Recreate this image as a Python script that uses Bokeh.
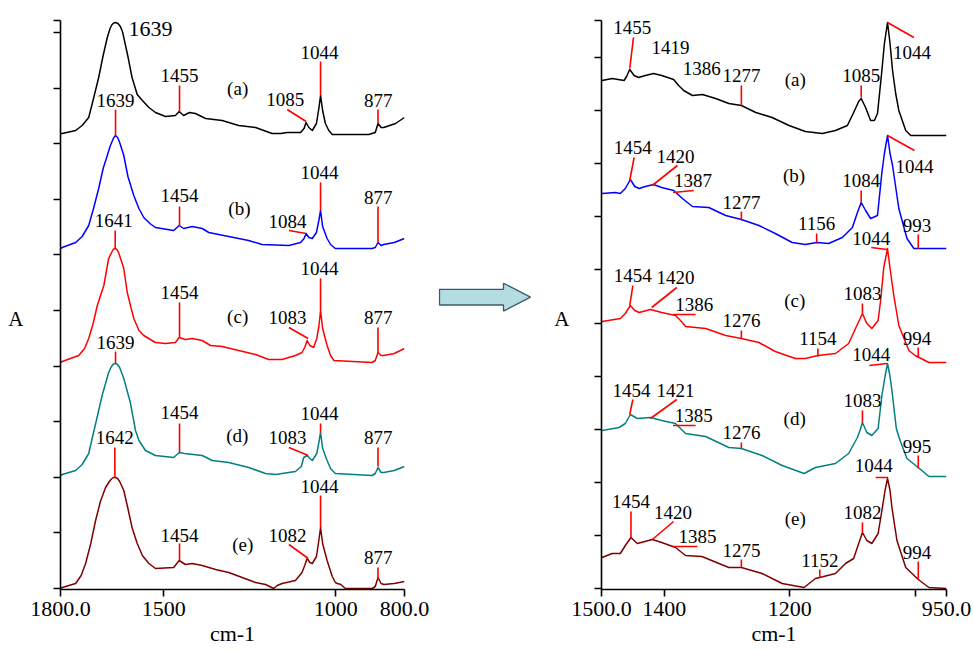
from bokeh.plotting import figure
from bokeh.layouts import row
from bokeh.models import Range1d, FixedTicker
from bokeh.core.properties import value
from bokeh.embed import file_html
from bokeh.resources import INLINE

FONT = "Liberation Serif"

# ---------------- Left panel spectra (wavenumber, stacked absorbance) ----------------
la_wn = [1800, 1795, 1756, 1737, 1718, 1704, 1689, 1676, 1664, 1656, 1650, 1645, 1640, 1633, 1626, 1620, 1616, 1604, 1592, 1577, 1562, 1543, 1524, 1495, 1466, 1455, 1442, 1425, 1408, 1378, 1330, 1282, 1233, 1185, 1160, 1141, 1102, 1092, 1086, 1078, 1068, 1056, 1049, 1044, 1038, 1030, 1020, 1010, 904, 885, 877, 868, 860, 826, 800]
la_h = [455, 455, 458, 463, 471, 490, 511, 533, 551, 560, 564, 565.5, 566, 565, 562, 557, 551, 532, 511, 494, 488, 481, 476, 472, 473, 477, 473, 476, 475, 470, 468, 463, 461, 455, 455, 456, 456, 460, 466, 461, 458, 465, 480, 493, 478, 465, 458, 454, 454, 456, 465, 461, 461, 465, 471]

lb_wn = [1800, 1795, 1756, 1737, 1718, 1704, 1689, 1676, 1664, 1656, 1650, 1645, 1640, 1634, 1628, 1616, 1604, 1587, 1572, 1558, 1540, 1524, 1471, 1455, 1442, 1417, 1388, 1369, 1311, 1253, 1214, 1136, 1102, 1092, 1086, 1078, 1068, 1056, 1049, 1044, 1038, 1025, 1015, 1001, 894, 885, 877, 868, 860, 830, 800]
lb_h = [340, 341, 346, 352, 363, 380, 400, 420, 433, 442, 447, 451, 453, 451, 446, 433, 412, 393, 380, 371, 365, 361, 358, 363, 360, 362, 360, 356, 352, 348, 344, 343, 346, 350, 355, 351, 350, 356, 368, 378, 362, 350, 344, 340, 340, 341, 346, 343, 344, 346, 350]

lc_wn = [1800, 1795, 1747, 1730, 1718, 1705, 1693, 1674, 1660, 1650, 1646, 1641, 1636, 1630, 1616, 1606, 1587, 1572, 1558, 1524, 1495, 1466, 1455, 1437, 1417, 1388, 1364, 1330, 1282, 1233, 1195, 1156, 1117, 1098, 1090, 1083, 1075, 1064, 1055, 1049, 1044, 1038, 1025, 1015, 1005, 894, 885, 877, 868, 860, 830, 800]
lc_h = [226, 227, 233, 240, 250, 265, 283, 303, 330, 337, 339.5, 340, 339, 335, 320, 296, 270, 258, 253, 246, 245, 246, 251, 249, 250, 248, 243, 242, 238, 234, 229, 229, 233, 236, 241, 248, 243, 241, 250, 262, 278, 260, 243, 233, 228, 226, 228, 236, 233, 233, 235, 240]

ld_wn = [1800, 1795, 1756, 1737, 1718, 1708, 1693, 1679, 1660, 1652, 1646, 1640, 1634, 1628, 1616, 1597, 1582, 1572, 1553, 1524, 1471, 1455, 1440, 1388, 1359, 1311, 1253, 1204, 1175, 1117, 1100, 1093, 1083, 1075, 1068, 1055, 1049, 1044, 1038, 1025, 1015, 1001, 894, 885, 877, 868, 860, 830, 800]
ld_h = [113, 114, 118, 124, 135, 150, 172, 193, 216, 222, 224.5, 225, 224, 221, 210, 186, 158, 148, 138, 133, 131, 136, 135, 133, 128, 126, 121, 115, 114, 117, 122, 131, 133, 130, 128, 135, 146, 156, 140, 128, 120, 115, 113, 115, 121, 116, 116, 118, 122]

le_wn = [1800, 1795, 1756, 1740, 1727, 1712, 1698, 1684, 1669, 1658, 1652, 1646, 1640, 1634, 1628, 1616, 1604, 1592, 1577, 1562, 1543, 1524, 1471, 1455, 1437, 1417, 1388, 1349, 1311, 1272, 1233, 1204, 1180, 1170, 1156, 1117, 1098, 1090, 1083, 1075, 1068, 1056, 1049, 1044, 1038, 1025, 1010, 1001, 995, 985, 972, 894, 885, 877, 868, 860, 830, 800]
le_h = [0, 1, 5, 13, 25, 45, 68, 87, 101, 107, 109.5, 111, 111, 110, 107, 98, 80, 61, 45, 33, 25, 20, 21, 28, 24, 25, 23, 19, 16, 11, 6, 4, 0, 3, 5, 8, 16, 23, 30, 26, 25, 32, 48, 61, 45, 28, 12, 6, 5, 4, 0, 0, 2, 11, 5, 4, 5, 7]

# ---------------- Right panel spectra ----------------
ra_wn = [1500, 1499, 1483, 1464, 1460, 1455, 1448, 1441, 1430, 1417, 1404, 1385, 1377, 1369, 1355, 1339, 1318, 1297, 1277, 1254, 1228, 1201, 1175, 1148, 1127, 1108, 1098, 1090, 1086, 1079, 1071, 1065, 1060, 1053, 1049, 1044, 1040, 1036, 1031, 1026, 1015, 1007, 950]
ra_h = [508, 508, 510, 508, 512, 519, 513, 511, 513, 515, 513, 509, 503, 498, 493, 494, 490, 485, 483, 476, 471, 463, 457, 455, 458, 463, 476, 487, 490, 481, 468, 468, 475, 518, 545, 566, 545, 518, 495, 478, 458, 453, 453]

rb_wn = [1500, 1499, 1478, 1470, 1462, 1454, 1447, 1440, 1430, 1417, 1404, 1385, 1378, 1371, 1355, 1329, 1302, 1277, 1249, 1223, 1196, 1175, 1157, 1138, 1116, 1100, 1092, 1086, 1079, 1071, 1060, 1053, 1049, 1044, 1040, 1036, 1026, 1013, 1002, 993, 950]
rb_h = [395, 395, 396, 395, 400, 409, 402, 400, 402, 404, 401, 398, 394, 390, 382, 381, 373, 369, 363, 355, 346, 344, 346, 345, 351, 361, 376, 386, 378, 370, 373, 416, 435, 453, 435, 423, 380, 350, 340, 340, 340]

rc_wn = [1500, 1499, 1470, 1462, 1454, 1447, 1440, 1422, 1404, 1382, 1374, 1366, 1334, 1302, 1277, 1249, 1223, 1191, 1175, 1155, 1127, 1106, 1095, 1084, 1077, 1069, 1059, 1055, 1050, 1044, 1040, 1034, 1026, 1010, 1000, 978, 950]
rc_h = [266, 267, 270, 275, 283, 278, 276, 279, 276, 273, 268, 262, 260, 253, 250, 246, 237, 230, 230, 233, 235, 245, 260, 275, 265, 260, 268, 288, 321, 340, 320, 293, 263, 238, 233, 226, 226]

rd_wn = [1500, 1499, 1472, 1462, 1454, 1443, 1422, 1404, 1382, 1366, 1334, 1297, 1277, 1244, 1212, 1177, 1159, 1127, 1106, 1092, 1088, 1084, 1077, 1069, 1059, 1053, 1048, 1044, 1040, 1037, 1030, 1024, 1013, 995, 978, 950]
rd_h = [158, 158, 161, 165, 174, 170, 171, 168, 165, 155, 152, 141, 140, 133, 123, 115, 121, 125, 135, 151, 158, 166, 156, 153, 160, 193, 212, 225, 212, 198, 160, 148, 130, 121, 112, 112]

re_wn = [1500, 1499, 1483, 1470, 1462, 1453, 1443, 1419, 1404, 1382, 1366, 1340, 1297, 1277, 1244, 1212, 1177, 1159, 1152, 1127, 1111, 1098, 1090, 1084, 1077, 1069, 1059, 1053, 1048, 1044, 1040, 1037, 1029, 1015, 995, 978, 950]
re_h = [31, 31, 35, 35, 43, 51, 45, 49, 46, 41, 33, 32, 21, 21, 15, 5, 1, 10, 11, 15, 25, 30, 45, 56, 48, 45, 55, 78, 98, 110, 98, 81, 48, 21, 9, 1, 0]

colors = ["#000000", "#0000ff", "#ff0000", "#008080", "#800000"]

# ---------------- Left panel peak labels ----------------
l_txt = ["1455", "(a)", "1085", "1044", "877", "1639",
         "1454", "(b)", "1084", "1044", "877", "1641",
         "1454", "(c)", "1083", "1044", "877", "1639",
         "1454", "(d)", "1083", "1044", "877", "1642",
         "1454", "(e)", "1082", "1044", "877"]
l_tx = [1454, 1285, 1147, 1047, 876, 1640,
        1454, 1280, 1140, 1047, 876, 1645,
        1454, 1285, 1140, 1047, 876, 1640,
        1454, 1286, 1140, 1047, 876, 1642,
        1454, 1270, 1140, 1047, 876]
l_ty = [513, 500, 489, 536, 488, 488,
        393, 380, 367, 416, 391, 368,
        296, 272, 271, 320, 271, 246,
        176, 153, 151, 175, 151, 151,
        53, 44, 53, 102, 31]
l_big_txt = ["1639"]
l_big_x = [1602]
l_big_y = [560]

l_x0 = [1454, 1141, 1044, 877, 1640, 1454, 1136, 1044, 877, 1641, 1454, 1136, 1044, 877, 1640, 1454, 1136, 1044, 877, 1642, 1454, 1136, 1044, 877]
l_y0 = [503, 479, 527, 479, 479, 382, 358, 406, 382, 358, 286, 261, 310, 261, 237, 165, 141, 165, 141, 141, 45, 44, 93, 21]
l_x1 = [1454, 1086, 1044, 877, 1640, 1454, 1086, 1044, 877, 1641, 1454, 1080, 1044, 877, 1640, 1454, 1080, 1044, 877, 1642, 1454, 1080, 1044, 877]
l_y1 = [477, 467, 493, 465, 453, 363, 355, 378, 346, 340, 251, 250, 278, 236, 225, 136, 133, 156, 122, 111, 28, 30, 61, 9]

# ---------------- Right panel peak labels ----------------
r_txt = ["1455", "1419", "1386", "1277", "(a)", "1085", "1044",
         "1454", "1420", "1387", "1277", "(b)", "1156", "1084", "1044", "993", "1044",
         "1454", "1420", "1386", "1276", "(c)", "1083", "1154", "994", "1044",
         "1454", "1421", "1385", "1276", "(d)", "1083", "995", "1044",
         "1454", "1420", "1385", "1275", "(e)", "1152", "1082", "994"]
r_tx = [1451, 1390, 1340, 1277, 1191, 1086, 1005,
        1450, 1382, 1354, 1277, 1193, 1157, 1086, 1001, 997, 1070,
        1450, 1382, 1352, 1277, 1192, 1084, 1155, 997, 1070,
        1452, 1382, 1353, 1277, 1192, 1084, 997, 1066,
        1453, 1386, 1347, 1277, 1191, 1152, 1084, 997]
r_ty = [561, 541, 520, 513, 509, 513, 536,
        441, 432, 408, 386, 413, 365, 408, 422, 363, 350,
        313, 311, 284, 268, 288, 295, 250, 250, 234,
        198, 198, 173, 156, 170, 188, 142, 123,
        87, 76, 52, 38, 70, 28, 76, 36]

r_x0 = [1449, 1277, 1086, 1044,
        1448, 1379, 1353, 1277, 1157, 1086, 1044, 995, 1070,
        1450, 1380, 1350, 1277, 1084, 1155, 995, 1073,
        1450, 1380, 1350, 1277, 1084, 995, 1063,
        1453, 1385, 1347, 1277, 1152, 1084, 995]
r_y0 = [551, 503, 503, 566,
        431, 423, 398, 377, 355, 398, 453, 354, 341,
        303, 301, 274, 258, 285, 240, 241, 223,
        189, 189, 163, 146, 178, 133, 111,
        77, 67, 42, 29, 19, 66, 27]
r_x1 = [1455, 1277, 1086, 1002,
        1455, 1419, 1386, 1277, 1157, 1086, 1001, 995, 1045,
        1455, 1420, 1386, 1277, 1084, 1155, 995, 1045,
        1455, 1422, 1386, 1277, 1084, 995, 1043,
        1453, 1419, 1386, 1277, 1152, 1084, 995]
r_y1 = [520, 483, 491, 551,
        408, 403, 396, 368, 346, 386, 438, 340, 339,
        283, 281, 274, 250, 275, 232, 231, 225,
        174, 170, 163, 140, 166, 120, 111,
        51, 49, 42, 21, 11, 56, 9]

y_ticks_left = [0, 55.6, 111.2, 166.8, 222.4, 278, 333.6, 389.2, 444.8, 500.4, 556, 568]
y_ticks_right = [0, 53.1, 106.2, 159.3, 212.4, 265.5, 318.6, 371.7, 424.8, 477.9, 531, 568]

TOP, FH, BOT = 20, 569, 65


def make_panel(xr, spectra, txt, tx, ty, x0, y0, x1, y1, xticks, xlabels, yticks,
               bl, br, fw, a_standoff):
    p = figure(width=bl + fw + br, height=TOP + FH + BOT,
               x_range=Range1d(*xr), y_range=Range1d(-1, 568),
               output_backend="svg", toolbar_location=None, tools="",
               min_border_left=bl, min_border_right=br, min_border_top=TOP,
               min_border_bottom=BOT)
    p.outline_line_color = None
    p.xgrid.visible = False
    p.ygrid.visible = False
    for (wn, h), c in zip(spectra, colors):
        p.line(wn, h, line_color=c, line_width=1.5, line_join="round")
    p.segment(x0, y0, x1, y1, line_color="#ff0000", line_width=1.6)
    p.text(tx, ty, text=txt, text_font=value(FONT), text_font_size=value("19px"),
           text_align="center", text_baseline="middle", text_color="black")
    # x axis
    ax = p.xaxis[0]
    ax.ticker = FixedTicker(ticks=xticks)
    ax.major_label_overrides = dict(zip(xticks, xlabels))
    ax.major_label_text_font = FONT
    ax.major_label_text_font_size = "22px"
    ax.major_label_text_color = "black"
    ax.major_label_standoff = 5
    ax.axis_label = "cm-1"
    ax.axis_label_text_font = FONT
    ax.axis_label_text_font_size = "22px"
    ax.axis_label_text_font_style = "normal"
    ax.axis_label_text_color = "black"
    ax.axis_label_standoff = 2
    # y axis: ticks only, no tick labels
    ay = p.yaxis[0]
    ay.ticker = FixedTicker(ticks=yticks)
    ay.major_label_overrides = {t: "" for t in yticks}
    ay.major_label_standoff = 0
    ay.axis_label = "\nA"
    ay.axis_label_text_font = FONT
    ay.axis_label_text_font_size = "21px"
    ay.axis_label_text_font_style = "normal"
    ay.axis_label_text_color = "black"
    ay.axis_label_orientation = "horizontal"
    ay.axis_label_standoff = a_standoff
    for a in (ax, ay):
        a.axis_line_color = "black"
        a.axis_line_width = 1.6
        a.major_tick_line_color = "black"
        a.major_tick_line_width = 1.6
        a.major_tick_out = 7
        a.major_tick_in = 0
        a.minor_tick_line_color = None
    return p


left = make_panel((1800, 800),
                  [(la_wn, la_h), (lb_wn, lb_h), (lc_wn, lc_h), (ld_wn, ld_h), (le_wn, le_h)],
                  l_txt, l_tx, l_ty, l_x0, l_y0, l_x1, l_y1,
                  [1800, 1500, 1000, 800], ["1800.0", "1500", "1000", "800.0"],
                  y_ticks_left, 60, 34, 344, 30)
left.text(l_big_x, l_big_y, text=l_big_txt, text_font=value(FONT),
          text_font_size=value("22px"), text_align="left", text_baseline="middle",
          text_color="black")

right = make_panel((1500, 950),
                   [(ra_wn, ra_h), (rb_wn, rb_h), (rc_wn, rc_h), (rd_wn, rd_h), (re_wn, re_h)],
                   r_txt, r_tx, r_ty, r_x0, r_y0, r_x1, r_y1,
                   [1500, 1400, 1200, 1000, 950], ["1500.0", "1400", "1200", "", "950.0"],
                   y_ticks_right, 61, 28, 345, 25)

# ---------------- Middle: block arrow (page pixel coordinates) ----------------
mid = figure(width=102, height=TOP + FH + BOT, x_range=Range1d(438, 540),
             y_range=Range1d(TOP + FH + BOT, 0),
             output_backend="svg", toolbar_location=None, tools="",
             x_axis_location=None, y_axis_location=None, min_border=0)
mid.outline_line_color = None
mid.xgrid.visible = False
mid.ygrid.visible = False
arrow_x = [439, 503, 503, 530, 503, 503, 439]
arrow_y = [309, 309, 302, 318, 334, 327, 327]
mid.patch(arrow_x, arrow_y, fill_color="#b3dde2", line_color="#3d5a6c", line_width=1.3)

layout = row(left, mid, right)
open("out.html", "w").write(file_html(layout, INLINE))
